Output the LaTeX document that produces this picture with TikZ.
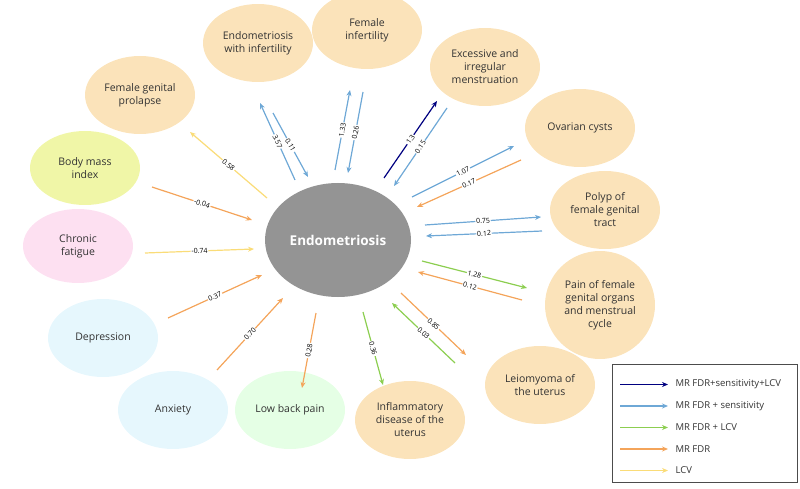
\documentclass[tikz,border=0pt]{standalone}
\usepackage{fontspec}
\setmainfont{Open Sans}
\usetikzlibrary{shapes.geometric,arrows.meta}
\begin{document}
\begin{tikzpicture}[x=1pt,y=-1pt,
 bub/.style={ellipse,inner sep=0pt,minimum width=110pt,minimum height=78pt,align=center,font=\fontsize{10.5}{13}\selectfont,text=black!80},
 lab/.style={midway,sloped,fill=white,inner sep=0.8pt,font=\fontsize{7}{8}\selectfont},
 a/.style={-{Stealth[length=6pt,width=5pt]},line width=1.2pt},
 db/.style={a,draw=blue!50!black},
 lb/.style={a,draw={rgb,255:red,110;green,168;blue,214}},
 gr/.style={a,draw={rgb,255:red,140;green,206;blue,80}},
 or/.style={a,draw={rgb,255:red,244;green,164;blue,90}},
 ye/.style={a,draw={rgb,255:red,250;green,220;blue,120}},
 ]
\useasboundingbox (0,0) rectangle (800,489);
\definecolor{pe}{HTML}{FBE3BA}
\node[ellipse,fill=black!42,minimum width=142pt,minimum height=114pt,text=white,font=\bfseries\fontsize{13.5}{14}\selectfont] (e) at (338,240) {Endometriosis};
\node[bub,fill=pe] (n1) at (140,95) {Female genital\\prolapse};
\node[bub,fill=pe] (n2) at (258,43) {Endometriosis\\with infertility};
\node[bub,fill=pe] (n3) at (367,30) {Female\\infertility};
\node[bub,fill=pe] (n4) at (485,67) {Excessive and\\irregular\\menstruation};
\node[bub,fill=pe] (n5) at (580,128) {Ovarian cysts};
\node[bub,fill=pe] (n6) at (605,210) {Polyp of\\female genital\\tract};
\node[bub,fill=pe,minimum height=108pt] (n7) at (600,305) {Pain of female\\genital organs\\and menstrual\\cycle};
\node[bub,fill=pe] (n8) at (540,385) {Leiomyoma of\\the uterus};
\node[bub,fill=pe] (n9) at (410,420) {Inflammatory\\disease of the\\uterus};
\node[bub,fill=green!10] (n10) at (290,410) {Low back pain};
\node[bub,fill=cyan!10] (n11) at (173,410) {Anxiety};
\node[bub,fill=cyan!10] (n12) at (103,338) {Depression};
\node[bub,fill=magenta!12,minimum height=74pt] (n13) at (78,246) {Chronic\\fatigue};
\node[bub,fill=yellow!35!lime!35,minimum height=74pt] (n14) at (85,168) {Body mass\\index};
\newcommand{\myarr}[4]{\draw[#1] (#2) -- node[lab]{#4} (#3);}
\myarr{ye}{267,198}{190,132}{0.58}
\myarr{lb}{295,180}{260,103}{3.57}
\myarr{lb}{273,113}{308,177}{0.11}
\myarr{lb}{335,170}{350,90}{1.33}
\myarr{lb}{363,92}{348,173}{0.26}
\myarr{db}{384,178}{437,101}{1.3}
\myarr{lb}{447,108}{394,186}{0.15}
\myarr{lb}{412,197}{514,146}{1.07}
\myarr{or}{521,160}{417,207}{0.17}
\myarr{lb}{425,225}{541,217}{0.75}
\myarr{lb}{542,231}{426,236}{0.12}
\myarr{gr}{422,261}{527,288}{1.28}
\myarr{or}{522,300}{418,272}{0.12}
\myarr{or}{401,293}{466,355}{0.85}
\myarr{gr}{455,363}{392,303}{0.03}
\myarr{gr}{363,312}{383,385}{0.36}
\myarr{or}{316,313}{302,388}{0.28}
\myarr{or}{217,370}{283,298}{0.70}
\myarr{or}{168,318}{262,275}{0.37}
\myarr{ye}{145,253}{254,249}{-0.74}
\myarr{or}{152,187}{252,220}{-0.04}
\node[draw=black!70,line width=0.8pt,minimum width=185pt,minimum height=118pt] (lg) at (704.5,423) {};
\foreach \s/\t [count=\i] in {db/MR FDR+sensitivity+LCV,lb/MR FDR + sensitivity,gr/MR FDR + LCV,or/MR FDR,ye/LCV}{
 \coordinate (l\i a) at (620,{363+21.5*\i});
 \coordinate (l\i b) at (668,{363+21.5*\i});
 \draw[\s] (l\i a) -- (l\i b);
 \node[anchor=west,font=\fontsize{9.5}{10}\selectfont,text=black!80] (t\i) at (672,{363+21.5*\i}) {\t};
}
\end{tikzpicture}
\end{document}
